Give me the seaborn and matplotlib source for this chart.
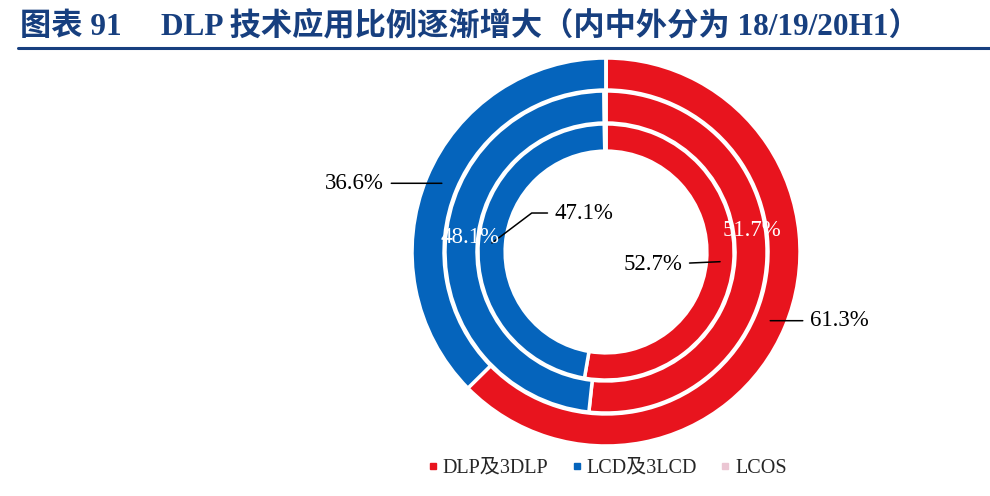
import numpy as np
import matplotlib
matplotlib.use("Agg")
import matplotlib.pyplot as plt
from matplotlib.lines import Line2D
import seaborn as sns

# data: inner -> outer ring = 18 / 19 / 20H1
periods = ["18", "19", "20H1"]
tech = ["DLP及3DLP", "LCD及3LCD", "LCOS"]
dlp = [52.7, 51.7, 61.3]
lcd = [47.1, 48.1, 36.6]
lcos = [0.2, 0.2, 0.0]

sns.set_theme(style="white")
plt.rcParams["font.family"] = ["Liberation Serif", "Noto Sans CJK SC", "DejaVu Sans"]

colors = ["#E8141E", "#0564BC", "#EBC6D3"]
title_color = "#173F7F"

# ring geometry (outer radius, width), inner -> outer
rings = [(0.66, 0.14), (0.83, 0.165), (1.0, 0.165)]

fig = plt.figure(figsize=(9.9, 4.96), dpi=100)
ax = fig.add_axes([0.4162, 0.1008, 0.3919, 0.7823])

wedge_sets = []
for i, (r, w) in enumerate(rings):
    vals = [dlp[i], lcd[i], lcos[i]]
    wedges, _ = ax.pie(vals, radius=r, startangle=90, counterclock=False,
                       colors=colors,
                       wedgeprops=dict(width=w, edgecolor="white", linewidth=2.5))
    wedge_sets.append(wedges)

ax.set_xlim(-1, 1)
ax.set_ylim(-1, 1)
ax.set_aspect("equal")
ax.axis("off")


def anchor(ring, k):
    wd = wedge_sets[ring][k]
    r, w = rings[ring]
    rm = r - w / 2
    th = np.deg2rad((wd.theta1 + wd.theta2) / 2)
    return rm * np.cos(th), rm * np.sin(th)


series = [dlp, lcd]
# (ring, series, offset px, ha, style)
labels = [
    (0, 0, (-38, -3), "right", "leader"),
    (0, 1, (63, 30), "left", "elbow"),
    (1, 0, (1, 29), "center", "inside"),
    (1, 1, (9, 8), "center", "inside"),
    (2, 0, (40, 0), "left", "leader"),
    (2, 1, (-58, 0), "right", "leader"),
]

for ring, k, off, ha, style in labels:
    txt = f"{series[k][ring]:.1f}%"
    xy = anchor(ring, k)
    if style == "inside":
        ax.annotate(txt, xy=xy, xytext=off, textcoords="offset pixels",
                    ha=ha, va="center", fontsize=16.5, color="white")
    else:
        cs = "arc3" if style == "leader" else "angle,angleA=0,angleB=37,rad=0"
        ax.annotate(txt, xy=xy, xytext=off, textcoords="offset pixels",
                    ha=ha, va="center", fontsize=16.5, color="black",
                    arrowprops=dict(arrowstyle="-", color="black", lw=1.1,
                                    shrinkA=3, shrinkB=0, connectionstyle=cs))

# title and rule
fig.text(20 / 990, 1 - 26 / 496,
         "图表 91     DLP 技术应用比例逐渐增大（内中外分为 18/19/20H1）",
         fontsize=22.5, fontweight="bold", color=title_color, va="center", ha="left")
fig.add_artist(Line2D([18 / 990, 1.0], [1 - 48 / 496, 1 - 48 / 496],
                      color=title_color, lw=2.2))

handles = [Line2D([], [], marker="s", linestyle="", markersize=4, color=c)
           for c in colors]
fig.legend(handles, tech, loc="center", bbox_to_anchor=(0.613, 0.056), ncol=3,
           frameon=False, fontsize=14.5, handletextpad=0.2, columnspacing=1.1,
           handlelength=0.6)

fig.savefig("out.png", dpi=100)
